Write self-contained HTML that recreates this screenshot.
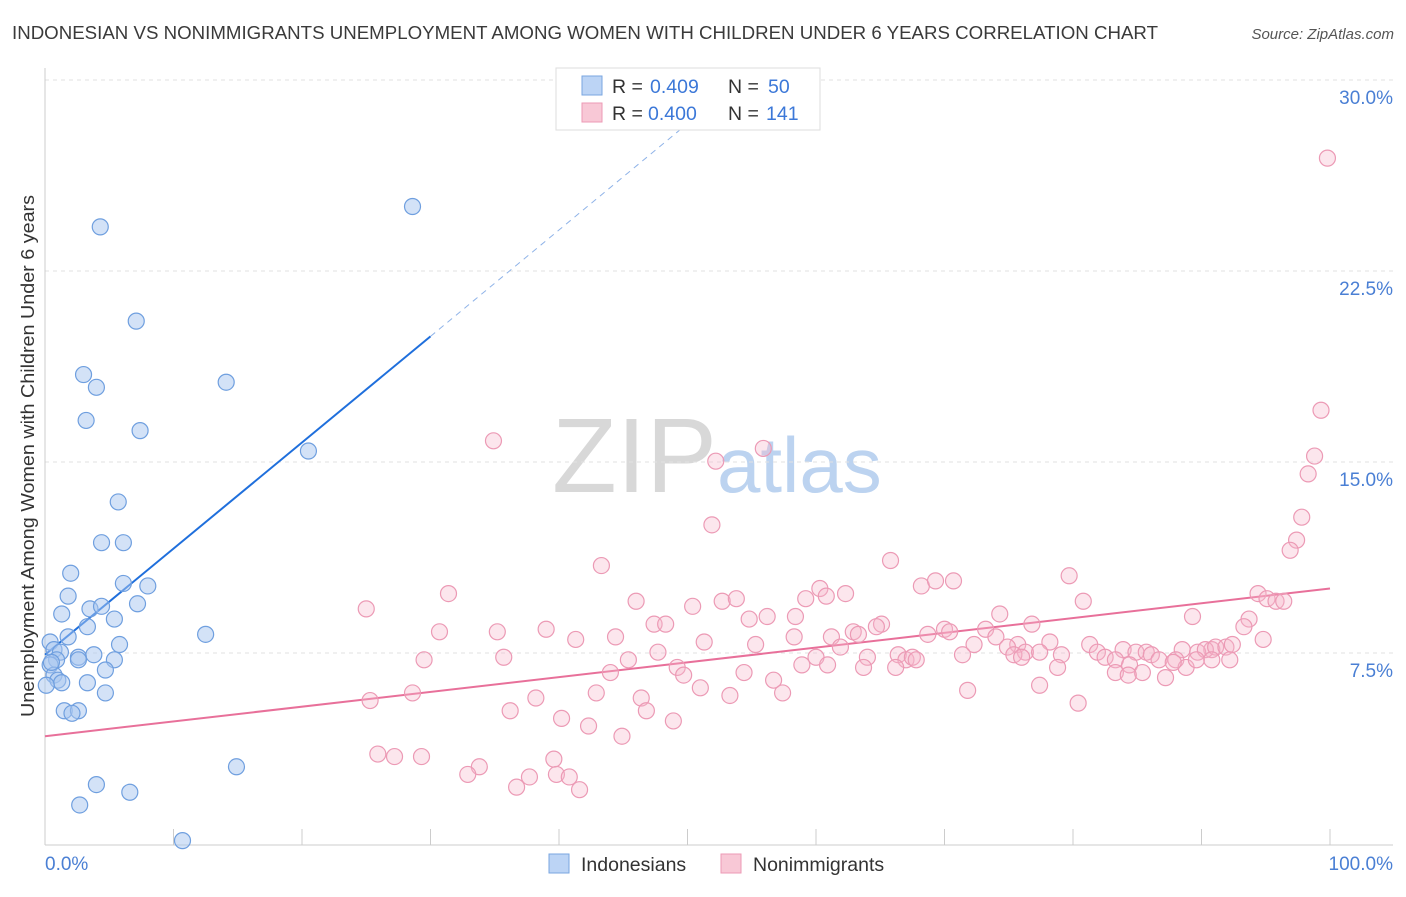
<!DOCTYPE html>
<html><head><meta charset="utf-8">
<style>
body{margin:0;background:#fff;font-family:"Liberation Sans",sans-serif;}
svg text{font-family:"Liberation Sans",sans-serif;}
</style></head>
<body>
<svg id="chart" width="1406" height="892" xmlns="http://www.w3.org/2000/svg">
<text x="12" y="39" font-size="18" textLength="1146" lengthAdjust="spacingAndGlyphs" fill="#3a3a3a">INDONESIAN VS NONIMMIGRANTS UNEMPLOYMENT AMONG WOMEN WITH CHILDREN UNDER 6 YEARS CORRELATION CHART</text>
<text x="1394" y="39" font-size="15" fill="#555" font-style="italic" text-anchor="end">Source: ZipAtlas.com</text>
<text transform="translate(34,456) rotate(-90)" font-size="18.5" textLength="522" lengthAdjust="spacingAndGlyphs" fill="#333" text-anchor="middle">Unemployment Among Women with Children Under 6 years</text>
<g>
<text x="552" y="492" font-size="106" fill="#d8d8d8" font-family="Liberation Serif,serif">ZIP</text>
<text x="717" y="492" font-size="78" fill="#bcd3f0">atlas</text>
</g>
<g id="grid"></g>
<g id="axes"></g>
<g id="lines"></g>
<g id="pts"></g>
<g>
<rect x="556" y="68" width="264" height="62" fill="#fff" stroke="#ddd"/>
<rect x="582" y="76" width="20" height="19" fill="#bcd4f5" stroke="#7aa6e0"/>
<text x="612" y="93" font-size="19.5" fill="#333">R = </text><text x="650" y="93" font-size="19.5" fill="#3c78d8">0.409</text>
<text x="728" y="93" font-size="19.5" fill="#333">N = </text><text x="768" y="93" font-size="19.5" fill="#3c78d8">50</text>
<rect x="582" y="103" width="20" height="19" fill="#f8c8d6" stroke="#ec9ab5"/>
<text x="612" y="120" font-size="19.5" fill="#333">R = </text><text x="648" y="120" font-size="19.5" fill="#3c78d8">0.400</text>
<text x="728" y="120" font-size="19.5" fill="#333">N = </text><text x="766" y="120" font-size="19.5" fill="#3c78d8">141</text>
</g>
<g>
<rect x="549" y="854" width="20" height="19" fill="#bcd4f5" stroke="#7aa6e0"/>
<text x="581" y="871" font-size="19.5" fill="#333">Indonesians</text>
<rect x="721" y="854" width="20" height="19" fill="#f8c8d6" stroke="#ec9ab5"/>
<text x="753" y="871" font-size="19.5" fill="#333">Nonimmigrants</text>
</g>
</svg>
<script>
const yTicks=[7.5,15,22.5,30];
const yTickLabels=["7.5%","15.0%","22.5%","30.0%"];
const xTicks=[0,10,20,30,40,50,60,70,80,90,100];
const blueX=[4.3,28.6,7.1,3.0,4.0,14.1,3.2,7.4,20.5,5.7,4.4,6.1,2.0,1.8,6.1,8.0,1.3,3.5,4.4,7.2,5.4,3.3,0.4,1.8,12.5,5.8,0.7,1.2,2.6,3.8,0.9,0.4,2.6,5.4,4.7,0.7,1.0,1.3,0.1,3.3,4.7,1.5,2.6,2.1,4.0,14.9,2.7,6.6,10.7,0.5];
const blueY=[24.9,25.7,21.2,19.1,18.6,18.8,17.3,16.9,16.1,14.1,12.5,12.5,11.3,10.4,10.9,10.8,9.7,9.9,10.0,10.1,9.5,9.2,8.6,8.8,8.9,8.5,8.3,8.2,8.0,8.1,7.9,7.7,7.9,7.9,7.5,7.3,7.1,7.0,6.9,7.0,6.6,5.9,5.9,5.8,3.0,3.7,2.2,2.7,0.8,7.8];
const pinkX=[99.8,99.3,98.8,98.3,97.8,97.4,96.9,34.9,55.9,52.2,51.9,65.8,43.3,79.7,31.4,25.0,46.0,60.3,60.8,62.3,68.2,69.3,70.7,94.4,95.1,95.8,96.4,50.4,52.7,53.8,59.2,80.8,74.3,89.3,56.2,58.4,54.8,47.4,48.3,65.1,76.8,93.7,93.3,30.7,35.2,39.0,41.3,44.4,51.3,58.3,61.2,62.9,63.3,64.7,68.7,70.0,70.4,73.2,74.0,75.7,78.2,81.3,83.9,88.5,90.8,94.8,47.7,55.3,61.9,72.3,74.9,76.3,77.4,79.1,81.9,82.5,83.3,84.9,85.7,86.1,86.7,88.0,89.7,90.3,91.1,91.9,92.4,35.7,45.4,60.0,64.0,66.4,67.0,67.5,71.4,75.4,76.0,29.5,49.2,49.7,44.0,54.4,58.9,60.9,63.7,66.2,67.8,78.8,83.3,84.4,85.4,88.8,89.6,90.8,92.2,87.8,56.7,51.0,57.4,87.2,84.3,42.9,38.2,53.3,46.4,71.8,77.4,28.6,25.3,36.2,46.8,80.4,48.9,40.2,42.3,44.9,25.9,27.2,29.3,39.6,33.8,32.9,37.7,36.7,39.8,40.8,41.6];
const pinkY=[27.6,17.7,15.9,15.2,13.5,12.6,12.2,16.5,16.2,15.7,13.2,11.8,11.6,11.2,10.5,9.9,10.2,10.7,10.4,10.5,10.8,11.0,11.0,10.5,10.3,10.2,10.2,10.0,10.2,10.3,10.3,10.2,9.7,9.6,9.6,9.6,9.5,9.3,9.3,9.3,9.3,9.5,9.2,9.0,9.0,9.1,8.7,8.8,8.6,8.8,8.8,9.0,8.9,9.2,8.9,9.1,9.0,9.1,8.8,8.5,8.6,8.5,8.3,8.3,8.3,8.7,8.2,8.5,8.4,8.5,8.4,8.2,8.2,8.1,8.2,8.0,7.9,8.2,8.2,8.1,7.9,7.9,8.2,8.3,8.4,8.4,8.5,8.0,7.9,8.0,8.0,8.1,7.9,8.0,8.1,8.1,8.0,7.9,7.6,7.3,7.4,7.4,7.7,7.7,7.6,7.6,7.9,7.6,7.4,7.7,7.4,7.6,7.9,7.9,7.9,7.8,7.1,6.8,6.6,7.2,7.3,6.6,6.4,6.5,6.4,6.7,6.9,6.6,6.3,5.9,5.9,6.2,5.5,5.6,5.3,4.9,4.2,4.1,4.1,4.0,3.7,3.4,3.3,2.9,3.4,3.3,2.8];
const blueTrend=[8.1,20.6,30];
const blueTrendX=[0,30,52.5];
const pinkTrend=[4.9,10.7];
const pinkTrendX=[0,100];

const NS="http://www.w3.org/2000/svg";
const X0=45,X1=1330;
const sx=v=>X0+(X1-X0)*v/100;
const sy=v=>861-v*191/7.5;
function mk(tag,attrs,parent){const e=document.createElementNS(NS,tag);for(const k in attrs)e.setAttribute(k,attrs[k]);parent.appendChild(e);return e;}
const grid=document.getElementById('grid'),axes=document.getElementById('axes'),lines=document.getElementById('lines'),pts=document.getElementById('pts');
yTicks.forEach((t,i)=>{
  const gl=mk('line',{x1:45,x2:1393,y1:sy(t)-17,y2:sy(t)-17,stroke:'#e2e2e2','stroke-dasharray':'4,4'},grid);
  
  
  const tl=mk('text',{x:1393,y:sy(t)+7,'font-size':19,fill:'#4a7fd4','text-anchor':'end'},axes);
  tl.textContent=yTickLabels[i];
  
  
});
mk('line',{x1:45,x2:45,y1:68,y2:845,stroke:'#ccc'},axes);
mk('line',{x1:45,x2:1393,y1:845,y2:845,stroke:'#ccc'},axes);
xTicks.forEach(t=>{
  const tk=mk('line',{x1:sx(t),x2:sx(t),y1:829,y2:845,stroke:'#ccc'},axes);
  
  
});
const xl0=mk('text',{x:45,y:870,'font-size':19,fill:'#4a7fd4'},axes);xl0.textContent='0.0%';


const xl1=mk('text',{x:1393,y:870,'font-size':19,fill:'#4a7fd4','text-anchor':'end'},axes);xl1.textContent='100.0%';



pinkX.forEach((x,i)=>{
  const c=mk('circle',{cx:sx(x),cy:sy(pinkY[i]),r:8,fill:'rgba(246,182,202,0.35)',stroke:'#ec9ab5','stroke-width':1.2},pts);
  
  
});
blueX.forEach((x,i)=>{
  const c=mk('circle',{cx:sx(x),cy:sy(blueY[i]),r:8,fill:'rgba(168,198,240,0.5)',stroke:'#6f9fdf','stroke-width':1.2},pts);
  
  
});
const bl=mk('line',{x1:sx(blueTrendX[0]),y1:sy(blueTrend[0]),x2:sx(blueTrendX[1]),y2:sy(blueTrend[1]),stroke:'#1f6fdc','stroke-width':2},lines);


const bd=mk('line',{x1:sx(blueTrendX[1]),y1:sy(blueTrend[1]),x2:sx(blueTrendX[2]),y2:sy(blueTrend[2]),stroke:'#8fb3e8','stroke-width':1,'stroke-dasharray':'6,5'},lines);


const pl=mk('line',{x1:sx(pinkTrendX[0]),y1:sy(pinkTrend[0]),x2:sx(pinkTrendX[1]),y2:sy(pinkTrend[1]),stroke:'#e8709a','stroke-width':2},lines);


</script>
</body></html>
